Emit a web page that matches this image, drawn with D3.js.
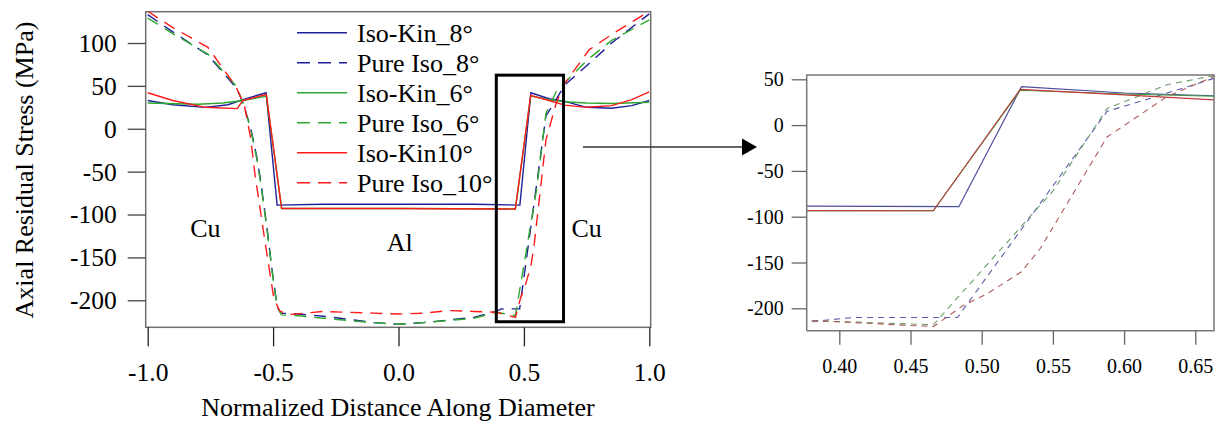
<!DOCTYPE html>
<html>
<head>
<meta charset="utf-8">
<script src="https://cdn.jsdelivr.net/npm/d3@7/dist/d3.min.js"></script>
<style>
  html, body { margin: 0; padding: 0; background: #fff; }
  svg { display: block; }
  text { font-family: "Liberation Serif", "Times New Roman", serif; fill: #000; }
</style>
</head>
<body>
<svg id="chart" width="1221" height="425"></svg>
<script>
// ---------------- DATA ----------------
const legendLabels = ["Iso-Kin_8°", "Pure Iso_8°", "Iso-Kin_6°", "Pure Iso_6°", "Iso-Kin10°", "Pure Iso_10°"];

const isoKin8X = [-1.0, -0.9, -0.77, -0.68, -0.62, -0.528, -0.484, -0.3, 0.0, 0.3, 0.484, 0.528, 0.6, 0.663, 0.75, 0.85, 0.93, 1.0];
const isoKin8Y = [33, 28, 25, 28, 34, 42, -89, -88, -88, -88, -89, 42, 35, 32, 25, 24, 27, 33];

const pureIso8X = [-1.0, -0.9, -0.76, -0.645, -0.62, -0.59, -0.565, -0.55, -0.525, -0.504, -0.484, -0.47, -0.4, -0.285, -0.1, 0, 0.1, 0.3, 0.39, 0.41, 0.483, 0.588, 0.618, 0.663, 0.76, 0.85, 1.0];
const pureIso8Y = [133, 113, 86, 47, 30, 2, -33, -60, -114, -165, -207, -215, -216, -219, -226, -228, -226, -220, -213, -210, -210, 15, 29, 51, 76, 100, 134];

const isoKin6X = [-1.0, -0.8, -0.7, -0.62, -0.527, -0.466, 0, 0.466, 0.527, 0.6, 0.663, 0.75, 0.85, 1.0];
const isoKin6Y = [30, 28.5, 30, 33, 38, -93, -93, -93.5, 38, 34, 31.5, 30, 29.5, 31];

const pureIso6X = [-1.0, -0.9, -0.76, -0.645, -0.62, -0.59, -0.565, -0.55, -0.525, -0.504, -0.484, -0.466, -0.4, -0.3, -0.1, 0, 0.1, 0.3, 0.39, 0.466, 0.55, 0.588, 0.63, 0.663, 0.76, 0.85, 1.0];
const pureIso6Y = [129, 111, 87, 49, 30, 0, -35, -62, -116, -166, -208, -217, -218, -221, -226, -228, -226, -221, -214, -218, -72, 18, 44, 54, 82, 103, 127];

const isoKin10X = [-1.0, -0.9, -0.77, -0.643, -0.62, -0.527, -0.466, 0, 0.466, 0.527, 0.6, 0.663, 0.75, 0.85, 0.93, 1.0];
const isoKin10Y = [42, 33, 25, 23.5, 33, 40, -93, -93, -93.5, 39, 33, 27.5, 25, 27, 34, 43];

const pureIso10X = [-1.0, -0.9, -0.76, -0.65, -0.615, -0.59, -0.571, -0.531, -0.498, -0.475, -0.445, -0.3, -0.1, 0, 0.1, 0.2, 0.3, 0.39, 0.466, 0.487, 0.504, 0.528, 0.541, 0.588, 0.63, 0.663, 0.76, 0.85, 1.0];
const pureIso10Y = [137, 118, 95, 50, 28, -10, -56, -134, -196, -212, -217, -213, -215, -216, -215, -212, -213, -214, -220, -197, -184, -160, -135, -13, 31, 53, 92, 110, 137];

const mainXTicks = [-1.0, -0.5, 0.0, 0.5, 1.0];
const mainYTicks = [100, 50, 0, -50, -100, -150, -200];
const zoomXTicks = [0.40, 0.45, 0.50, 0.55, 0.60, 0.65];
const zoomYTicks = [50, 0, -50, -100, -150, -200];

const regionLabels = [
  { text: "Cu", x: -0.77, y: -126 },
  { text: "Al", x: 0.005, y: -142 },
  { text: "Cu", x: 0.75, y: -126 }
];
const zoomBox = { x0: 0.39, x1: 0.658, y0: -225, y1: 62.5 };

// --------------- STYLE ---------------
const FONT = '"Liberation Serif", "Times New Roman", serif';
const mainColors = ["#1f1f9c", "#1f1f9c", "#2ea82e", "#2ea82e", "#ff1a1a", "#ff1a1a"];
const zoomColors = ["#4d4d9e", "#5c5ca8", "#3a943a", "#6b9e6b", "#c23a3a", "#b05a5a"];
const dashed = [false, true, false, true, false, true];

const seriesX = [isoKin8X, pureIso8X, isoKin6X, pureIso6X, isoKin10X, pureIso10X];
const seriesY = [isoKin8Y, pureIso8Y, isoKin6Y, pureIso6Y, isoKin10Y, pureIso10Y];
const series = legendLabels.map((name, i) => ({
  name, dashed: dashed[i], main: mainColors[i], zoom: zoomColors[i],
  pts: d3.zip(seriesX[i], seriesY[i])
}));

const fmtInt = d => String(Math.round(d));          // plain hyphen minus
const fmt1 = d => d.toFixed(1);
const fmt2 = d => d.toFixed(2);

const svg = d3.select("#chart");

// --------------- MAIN CHART ---------------
const x = d3.scaleLinear().domain([-1, 1]).range([147.7, 649.3]);
const y = d3.scaleLinear().domain([-231.5, 136.5]).range([327.3, 11.7]);
const frameL = 145.7, frameR = 650.7, frameT = 11.7, frameB = 327.3;

svg.append("clipPath").attr("id", "clipMain").append("rect")
  .attr("x", frameL).attr("y", frameT).attr("width", frameR - frameL).attr("height", frameB - frameT);

const gMain = svg.append("g");
gMain.append("rect").attr("x", frameL).attr("y", frameT)
  .attr("width", frameR - frameL).attr("height", frameB - frameT)
  .attr("fill", "none").attr("stroke", "#707070").attr("stroke-width", 1.5);

const lineMain = d3.line().x(d => x(d[0])).y(d => y(d[1]));
const gLines = gMain.append("g").attr("clip-path", "url(#clipMain)");
series.forEach(s => {
  gLines.append("path").datum(s.pts)
    .attr("d", lineMain).attr("fill", "none")
    .attr("stroke", s.main).attr("stroke-width", 1.4)
    .attr("stroke-dasharray", s.dashed ? "12,8" : null);
});

// y axis (ticks on left, outside)
const yAxis = d3.axisLeft(y).tickValues(mainYTicks).tickSize(18).tickPadding(11).tickFormat(fmtInt);
const gy = gMain.append("g").attr("transform", `translate(${frameL},0)`).call(yAxis);
gy.select(".domain").remove();
gy.selectAll(".tick line").attr("stroke", "#444").attr("stroke-width", 1.3);
gy.selectAll(".tick text").attr("font-family", FONT).attr("font-size", 25.5).attr("fill", "#000").attr("dy", "0.33em");

// x axis
const xAxis = d3.axisBottom(x).tickValues(mainXTicks).tickSize(19).tickPadding(17).tickFormat(fmt1);
const gx = gMain.append("g").attr("transform", `translate(0,${frameB})`).call(xAxis);
gx.select(".domain").remove();
gx.selectAll(".tick line").attr("stroke", "#222").attr("stroke-width", 1.3);
gx.selectAll(".tick text").attr("font-family", FONT).attr("font-size", 25.5).attr("fill", "#000");

// titles
gMain.append("text").attr("x", 398).attr("y", 416).attr("text-anchor", "middle")
  .attr("font-size", 26).text("Normalized Distance Along Diameter");
gMain.append("text").attr("transform", "translate(33,170) rotate(-90)").attr("text-anchor", "middle")
  .attr("font-size", 26).text("Axial Residual Stress (MPa)");

// region labels
regionLabels.forEach(r => {
  gMain.append("text").attr("x", x(r.x)).attr("y", y(r.y)).attr("text-anchor", "middle")
    .attr("font-size", 26).text(r.text);
});

// legend
const gLeg = gMain.append("g");
series.forEach((s, i) => {
  const ly = 32.7 + 30 * i;
  gLeg.append("line").attr("x1", 297).attr("x2", 347).attr("y1", ly).attr("y2", ly)
    .attr("stroke", s.main).attr("stroke-width", 1.4)
    .attr("stroke-dasharray", s.dashed ? "13,8" : null);
  gLeg.append("text").attr("x", 357).attr("y", ly + 9).attr("font-size", 26).text(s.name);
});

// zoom box
gMain.append("rect")
  .attr("x", x(zoomBox.x0)).attr("y", y(zoomBox.y1))
  .attr("width", x(zoomBox.x1) - x(zoomBox.x0)).attr("height", y(zoomBox.y0) - y(zoomBox.y1))
  .attr("fill", "none").attr("stroke", "#000").attr("stroke-width", 3);

// arrow
svg.append("line").attr("x1", 583).attr("x2", 743).attr("y1", 147).attr("y2", 147)
  .attr("stroke", "#333").attr("stroke-width", 1.3);
svg.append("path").attr("d", "M742,138.5 L757,147 L742,155.5 Z").attr("fill", "#000");

// --------------- ZOOM CHART ---------------
const zx = d3.scaleLinear().domain([0.40, 0.65]).range([839.3, 1195.3]);
const zy = d3.scaleLinear().domain([-200, 50]).range([308.3, 79.3]);
const zL = 806.7, zR = 1214, zT = 75, zB = 330.7;

svg.append("clipPath").attr("id", "clipZoom").append("rect")
  .attr("x", zL).attr("y", zT).attr("width", zR - zL).attr("height", zB - zT);

const gZ = svg.append("g");
const lineZ = d3.line().x(d => zx(d[0])).y(d => zy(d[1]));
const gZL = gZ.append("g").attr("clip-path", "url(#clipZoom)");
series.forEach(s => {
  gZL.append("path").datum(s.pts)
    .attr("d", lineZ).attr("fill", "none")
    .attr("stroke", s.zoom).attr("stroke-width", 1.1)
    .attr("stroke-dasharray", s.dashed ? "6,5" : null);
});

gZ.append("path").attr("d", `M${zL},${zB}V${zT}H${zR}V${zB}H${zL}`)
  .attr("fill", "none").attr("stroke", "#777").attr("stroke-width", 1.5);

const zyAxis = d3.axisLeft(zy).tickValues(zoomYTicks).tickSize(15).tickPadding(8).tickFormat(fmtInt);
const gzy = gZ.append("g").attr("transform", `translate(${zL},0)`).call(zyAxis);
gzy.select(".domain").remove();
gzy.selectAll(".tick line").attr("stroke", "#666").attr("stroke-width", 1.3);
gzy.selectAll(".tick text").attr("font-family", FONT).attr("font-size", 20).attr("fill", "#000").attr("dy", "0.33em");

const zxAxis = d3.axisBottom(zx).tickValues(zoomXTicks).tickSize(14).tickPadding(14).tickFormat(fmt2);
const gzx = gZ.append("g").attr("transform", `translate(0,${zB})`).call(zxAxis);
gzx.select(".domain").remove();
gzx.selectAll(".tick line").attr("stroke", "#666").attr("stroke-width", 1.3);
gzx.selectAll(".tick text").attr("font-family", FONT).attr("font-size", 20).attr("fill", "#000");
</script>
</body>
</html>
